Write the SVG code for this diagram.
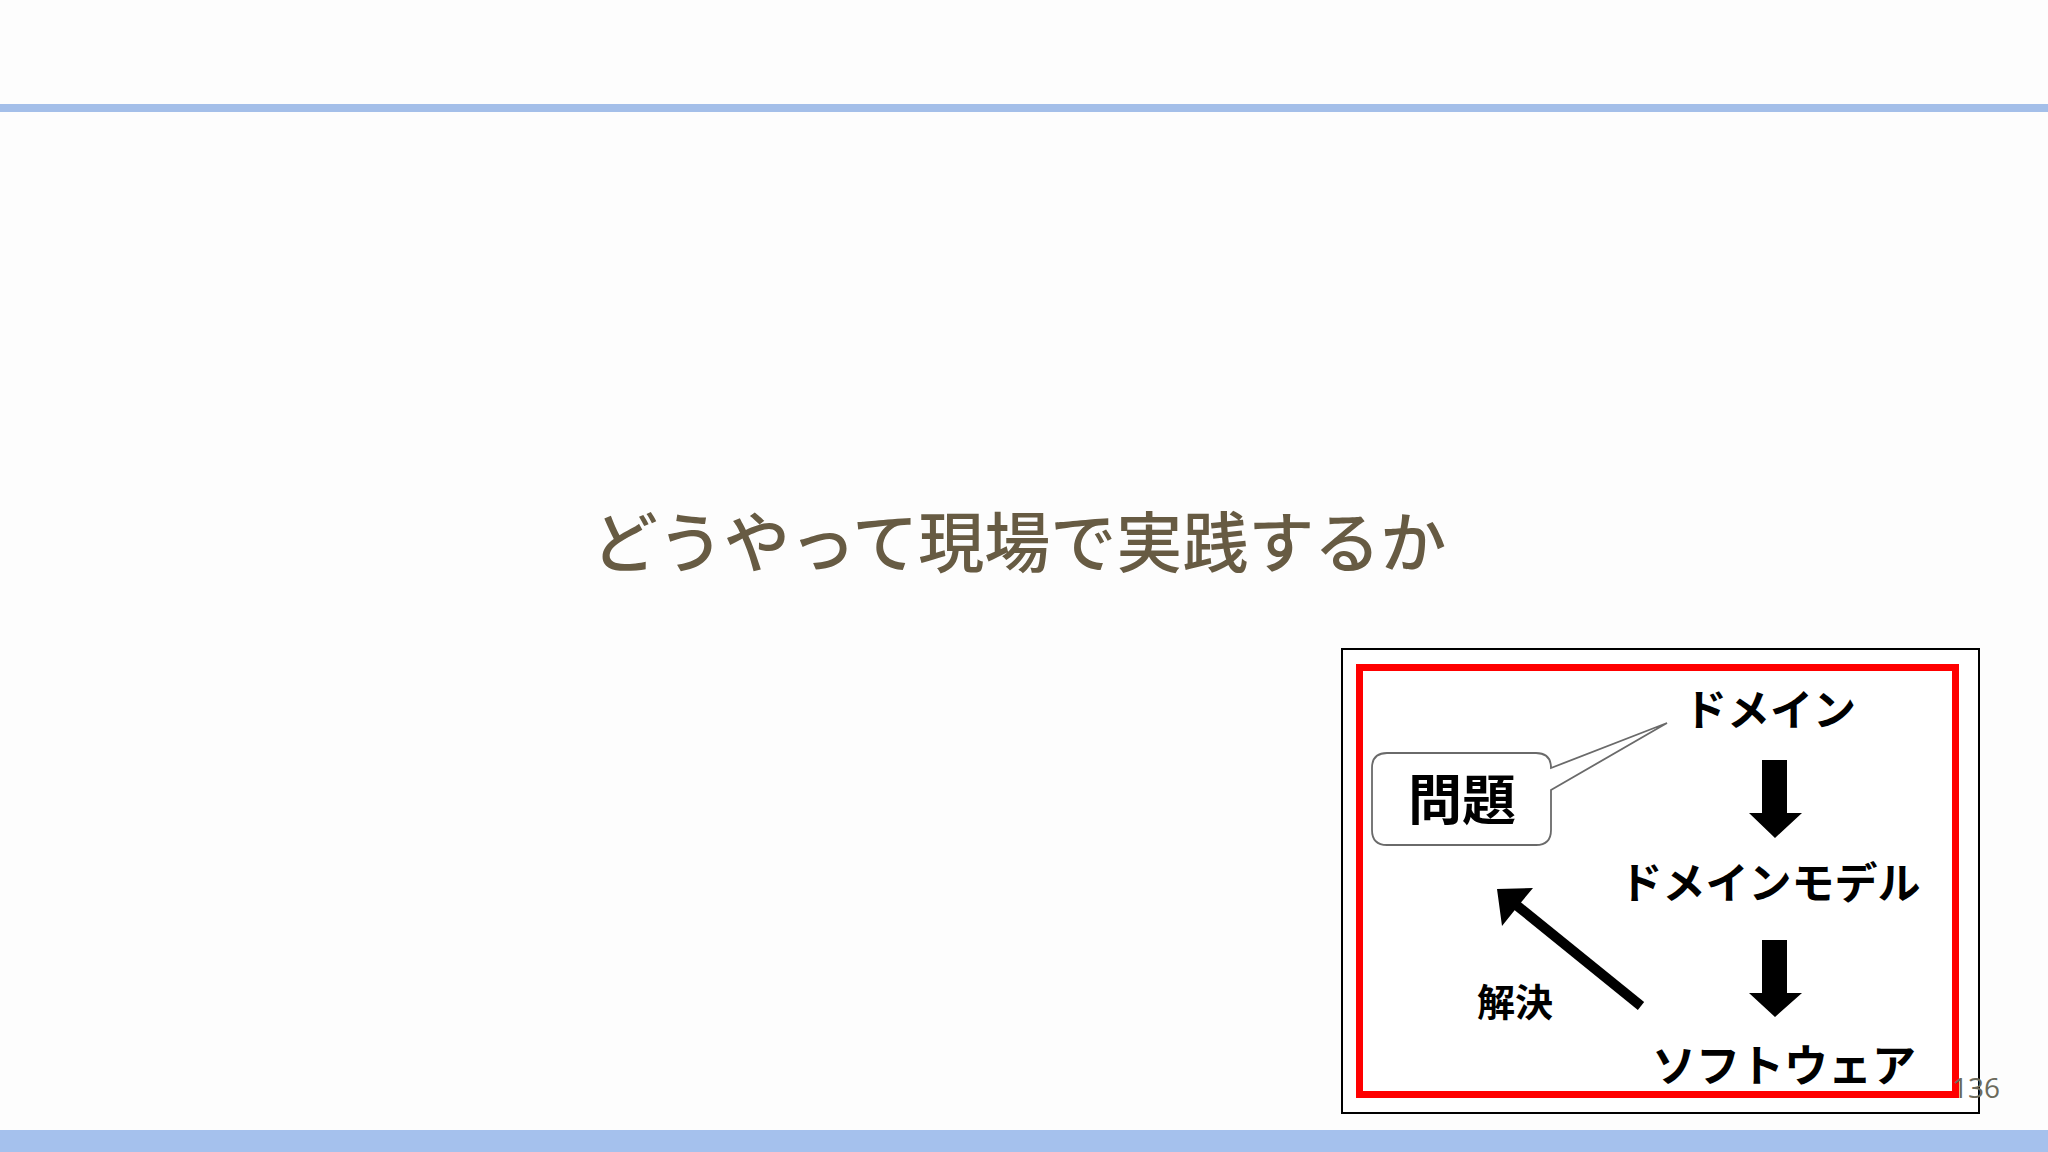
<svg xmlns="http://www.w3.org/2000/svg" width="2048" height="1152" viewBox="0 0 2048 1152">
  <style>
    .title { font-family: "Noto Sans CJK JP", "Noto Sans", sans-serif; font-size: 66px; font-weight: 500; fill: #675b43; }
    .lbl { font-family: "Noto Sans CJK JP", "Noto Sans", sans-serif; font-weight: 700; fill: #000000; }
    .pg { font-family: "Open Sans", "Liberation Sans", sans-serif; font-size: 28px; fill: #6b6a5c; }
    .arrow { fill: #000000; }
  </style>
  <rect x="0" y="0" width="2048" height="1152" fill="#fdfdfd"/>
  <rect x="0" y="104" width="2048" height="8" fill="#a4bfe9"/>
  <rect x="0" y="1130" width="2048" height="22" fill="#a5c1ed"/>

  <text class="title" x="1019" y="567" text-anchor="middle">どうやって現場で実践するか</text>

  <g id="figure">
    <rect x="1342" y="649" width="637" height="464" fill="#ffffff" stroke="#000000" stroke-width="2"/>
    <rect x="1359.5" y="667.5" width="596" height="427" fill="none" stroke="#ff0000" stroke-width="7"/>
  </g>

  <g id="node-domain">
    <text class="lbl" x="1770" y="726" font-size="43" text-anchor="middle">ドメイン</text>
  </g>
  <g id="node-domain-model">
    <text class="lbl" x="1770" y="899" font-size="43" text-anchor="middle">ドメインモデル</text>
  </g>
  <g id="node-software">
    <text class="lbl" x="1784" y="1082" font-size="44" text-anchor="middle">ソフトウェア</text>
  </g>
  <g id="node-problem">
    <path d="M1387 753 H1536 Q1551 753 1551 768 L1667 723 L1551 790 V830 Q1551 845 1536 845 H1387 Q1372 845 1372 830 V768 Q1372 753 1387 753 Z" fill="#ffffff" stroke="#6a6a6a" stroke-width="1.8" stroke-linejoin="miter"/>
    <text class="lbl" x="1462" y="820" font-size="54" text-anchor="middle">問題</text>
  </g>
  <g id="label-solution">
    <text class="lbl" x="1515" y="1016" font-size="38" text-anchor="middle">解決</text>
  </g>

  <g id="connectors">
    <polygon class="arrow" points="1762,760 1787,760 1787,813 1802,813 1775,838 1749,813 1762,813"/>
    <polygon class="arrow" points="1762,940 1787,940 1787,993 1802,993 1775,1017 1749,993 1762,993"/>
    <line x1="1641" y1="1006" x2="1515" y2="904" stroke="#000000" stroke-width="10"/>
    <polygon class="arrow" points="1497,889 1533,888 1518,906 1502,926"/>
  </g>

  <text class="pg" x="2000" y="1098" text-anchor="end">136</text>
</svg>
